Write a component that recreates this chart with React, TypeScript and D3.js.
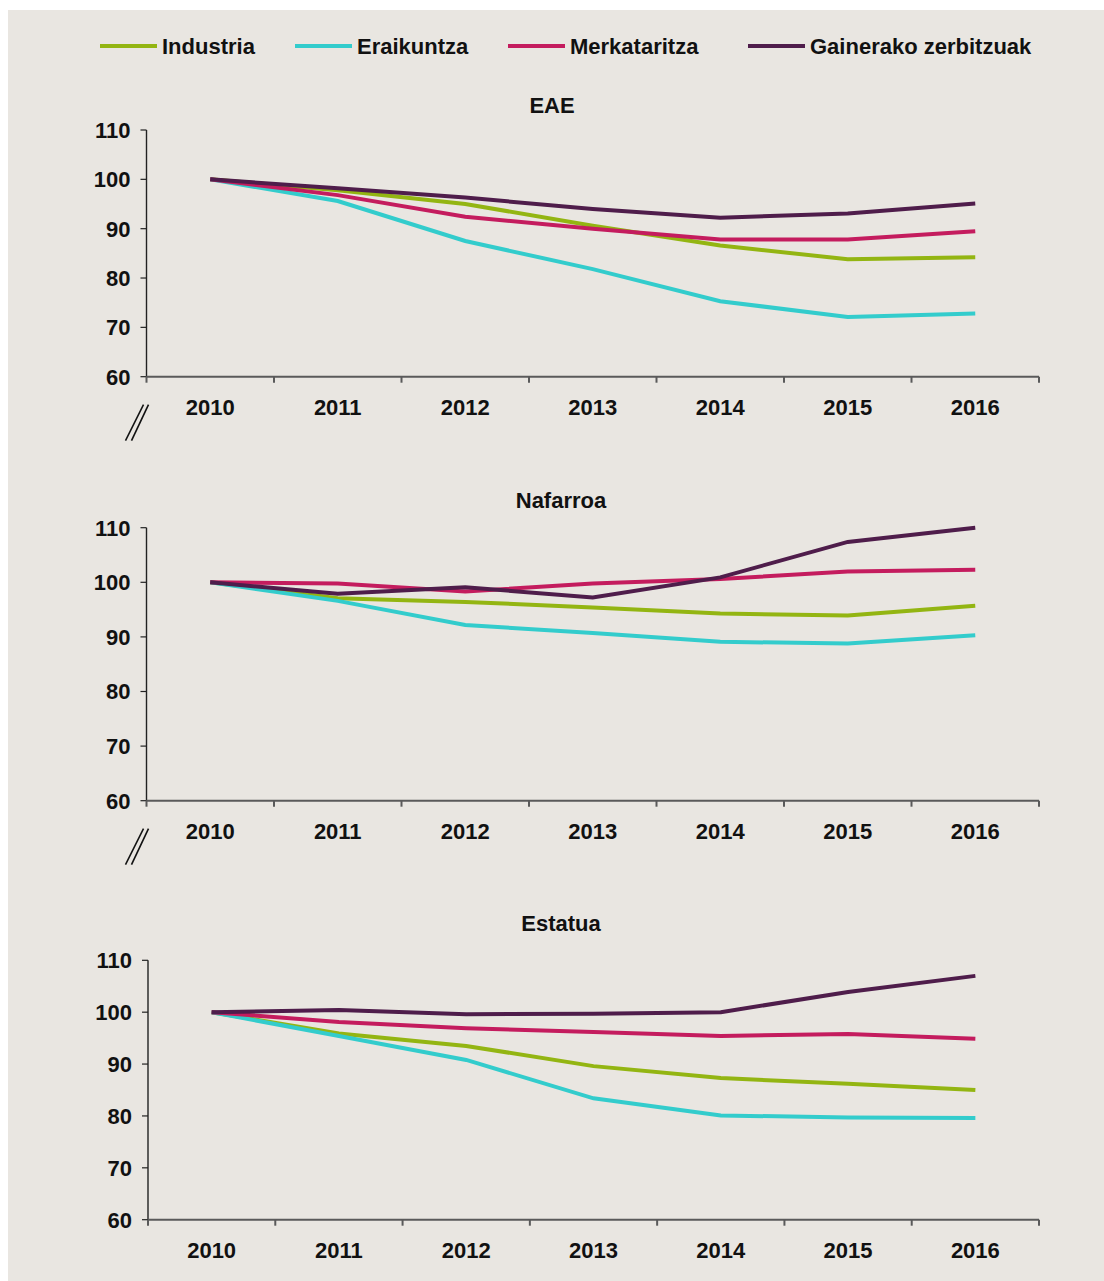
import React from "react";
import * as d3 from "d3";

const years = ["2010", "2011", "2012", "2013", "2014", "2015", "2016"];
const seriesNames = ["Industria", "Eraikuntza", "Merkataritza", "Gainerako zerbitzuak"];
const seriesColors = ["#93b512", "#33cccc", "#c41c5e", "#4f1d4b"];
const yTicks = [60, 70, 80, 90, 100, 110];

// EAE
const eaeIndustria = [100, 97.8, 95.0, 90.6, 86.6, 83.8, 84.2];
const eaeEraikuntza = [100, 95.6, 87.5, 81.8, 75.3, 72.1, 72.8];
const eaeMerkataritza = [100, 96.8, 92.4, 90.0, 87.8, 87.8, 89.5];
const eaeGainerako = [100, 98.2, 96.3, 94.0, 92.2, 93.1, 95.1];

// Nafarroa
const nafIndustria = [100, 97.1, 96.4, 95.4, 94.3, 93.9, 95.7];
const nafEraikuntza = [100, 96.6, 92.2, 90.7, 89.1, 88.8, 90.3];
const nafMerkataritza = [100, 99.8, 98.3, 99.8, 100.6, 102.0, 102.3];
const nafGainerako = [100, 97.9, 99.1, 97.2, 100.9, 107.4, 110.0];

// Estatua
const estIndustria = [100, 95.9, 93.5, 89.6, 87.3, 86.2, 85.0];
const estEraikuntza = [100, 95.4, 90.8, 83.4, 80.1, 79.7, 79.6];
const estMerkataritza = [100, 98.1, 96.9, 96.2, 95.4, 95.8, 94.9];
const estGainerako = [100, 100.4, 99.6, 99.7, 100.0, 103.9, 107.0];

const panels = [
  { title: "EAE", series: [eaeIndustria, eaeEraikuntza, eaeMerkataritza, eaeGainerako],
    left: 146.5, right: 1039, top: 130, bottom: 376.7, titleX: 552, titleY: 113, brk: true },
  { title: "Nafarroa", series: [nafIndustria, nafEraikuntza, nafMerkataritza, nafGainerako],
    left: 146.5, right: 1039, top: 527.7, bottom: 800.7, titleX: 561, titleY: 508, brk: true },
  { title: "Estatua", series: [estIndustria, estEraikuntza, estMerkataritza, estGainerako],
    left: 148, right: 1039, top: 960.3, bottom: 1219.7, titleX: 561, titleY: 931, brk: false },
];

const legendX = [100, 295, 508, 748];
const FONT = "'Liberation Sans', Arial, sans-serif";

function Panel({ p }: { p: typeof panels[number] }) {
  const x = d3.scaleBand<string>().domain(years).range([p.left, p.right]).paddingInner(0).paddingOuter(0);
  const y = d3.scaleLinear().domain([60, 110]).range([p.bottom, p.top]);
  const line = d3
    .line<number>()
    .x((_, i) => (x(years[i]) as number) + x.bandwidth() / 2)
    .y((d) => y(d));
  const tickXs = years.map((yr) => x(yr) as number).concat([p.right]);
  return (
    <g>
      <text x={p.titleX} y={p.titleY} textAnchor="middle" fontFamily={FONT} fontWeight="bold" fontSize={22} fill="#111">
        {p.title}
      </text>
      <line x1={p.left} x2={p.left} y1={p.top} y2={p.bottom} stroke="#222" strokeWidth={1.4} />
      {yTicks.map((t) => (
        <g key={t}>
          <line x1={p.left - 6} x2={p.left} y1={y(t)} y2={y(t)} stroke="#222" strokeWidth={1.2} />
          <text x={p.left - 16} y={y(t)} dy="0.36em" textAnchor="end" fontFamily={FONT} fontWeight="bold" fontSize={22} fill="#111">
            {t}
          </text>
        </g>
      ))}
      <line x1={p.left} x2={p.right} y1={p.bottom} y2={p.bottom} stroke="#5a5a5a" strokeWidth={2} />
      {tickXs.map((tx, i) => (
        <line key={i} x1={tx} x2={tx} y1={p.bottom} y2={p.bottom + 6} stroke="#5a5a5a" strokeWidth={2} />
      ))}
      {years.map((yr) => (
        <text key={yr} x={(x(yr) as number) + x.bandwidth() / 2} y={p.bottom + 38} textAnchor="middle" fontFamily={FONT} fontWeight="bold" fontSize={22} fill="#111">
          {yr}
        </text>
      ))}
      {p.brk && (
        <g stroke="#111" strokeWidth={1.6}>
          <line x1={p.left - 21} y1={p.bottom + 64} x2={p.left - 3} y2={p.bottom + 28} />
          <line x1={p.left - 15} y1={p.bottom + 64} x2={p.left + 2} y2={p.bottom + 28} />
        </g>
      )}
      {p.series.map((s, i) => (
        <path key={i} d={line(s) || ""} fill="none" stroke={seriesColors[i]} strokeWidth={4} strokeLinejoin="miter" />
      ))}
    </g>
  );
}

export default function App() {
  return (
    <div style={{ position: "absolute", left: 0, top: 0 }}>
      <svg width={1104} height={1281} style={{ display: "block" }}>
        <rect x={0} y={0} width={1104} height={1281} fill="#ffffff" />
        <rect x={8} y={10} width={1096} height={1271} fill="#e9e6e1" />
        {seriesNames.map((n, i) => (
          <g key={n}>
            <line x1={legendX[i]} x2={legendX[i] + 57} y1={46} y2={46} stroke={seriesColors[i]} strokeWidth={4} />
            <text x={legendX[i] + 62} y={46} dy="0.36em" fontFamily={FONT} fontWeight="bold" fontSize={22} fill="#111">
              {n}
            </text>
          </g>
        ))}
        {panels.map((p) => (
          <Panel key={p.title} p={p} />
        ))}
      </svg>
    </div>
  );
}
